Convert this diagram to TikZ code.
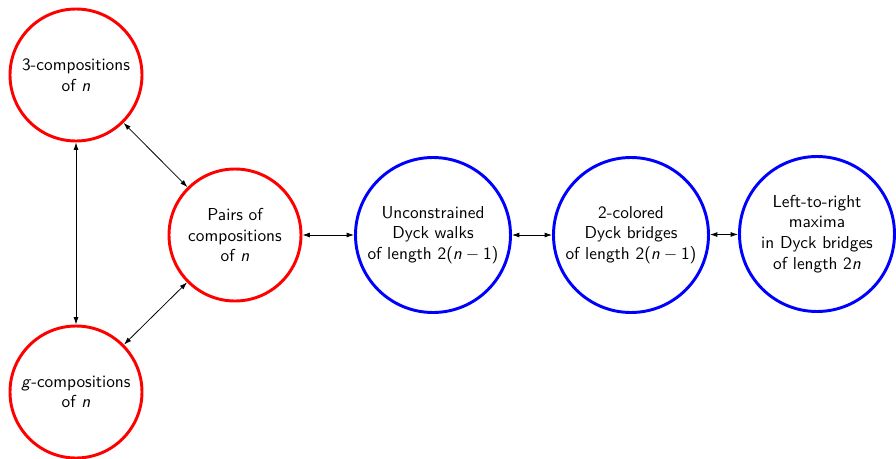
\documentclass[tikz,border=0pt]{standalone}
\usetikzlibrary{arrows.meta}

\newlength{\pxu}
\setlength{\pxu}{0.578pt}
\tikzset{
  redset/.style={circle, draw=red, line width=1.7pt, minimum size=132\pxu, inner sep=0pt, align=center, font=\sffamily},
  blueset/.style={circle, draw=blue, line width=1.7pt, minimum size=155\pxu, inner sep=0pt, align=center, font=\sffamily},
  link/.style={{Latex[length=1.5mm,width=1mm]}-{Latex[length=1.5mm,width=1mm]}, line width=0.45pt}
}

\begin{document}
\begin{tikzpicture}[x=0.578pt, y=-0.578pt]
        \useasboundingbox (0,0) rectangle (896,458);
        \node[redset] (three) at (76,75) {3-compositions\\of \textit{n}};
        \node[redset] (gcomp) at (76,392) {\textit{g}-compositions\\of \textit{n}};
        \node[redset] (pairs) at (235,235) {Pairs of\\compositions\\of \textit{n}};
        \node[blueset] (walks) at (433,235) {Unconstrained\\Dyck walks\\of length 2(\textit{n}\:$-$\:1)};
        \node[blueset] (bridges) at (631,235) {2-colored\\Dyck bridges\\of length 2(\textit{n}\:$-$\:1)};
        \node[blueset] (maxima) at (817,234) {Left-to-right\\maxima\\in Dyck bridges\\of length 2\textit{n}};
        \draw[link] (three) -- (gcomp);
        \draw[link] (three) -- (pairs);
        \draw[link] (gcomp) -- (pairs);
        \draw[link] (pairs) -- (walks);
        \draw[link] (walks) -- (bridges);
        \draw[link] (bridges) -- (maxima);
      \end{tikzpicture}
\end{document}
